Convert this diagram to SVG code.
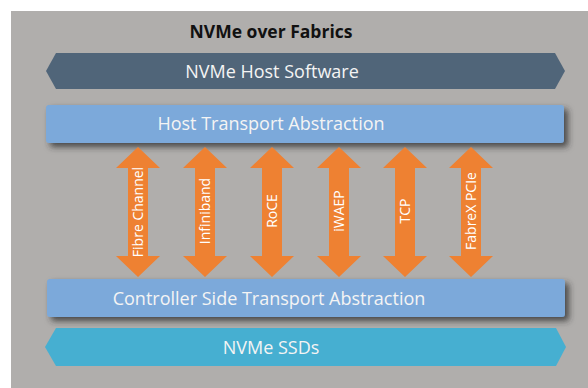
<svg xmlns="http://www.w3.org/2000/svg" width="588" height="388" viewBox="0 0 588 388">
<defs>
<filter id="sh" x="-5%" y="-30%" width="115%" height="180%">
<feDropShadow dx="4" dy="4" stdDeviation="3" flood-color="#333" flood-opacity="0.8"/>
</filter>
<style>
.lbl{font-family:"Open Sans","Liberation Sans",sans-serif;fill:#f4f4f4;text-anchor:middle}
.big{font-size:18px}
.arr{fill:#ee8132}
.al{font-family:"Open Sans","Liberation Sans",sans-serif;fill:#fff;font-size:14px;text-anchor:middle}
</style>
</defs>
<rect x="0" y="0" width="588" height="388" fill="#fff"/>
<rect x="11" y="11" width="577" height="377" fill="#b0aeac"/>
<text x="271" y="38" font-family="'Open Sans','Liberation Sans',sans-serif" font-weight="bold" font-size="17.5" fill="#111" text-anchor="middle">NVMe over Fabrics</text>
<g id="host-software">
<polygon points="56,53 555,53 565,71 555,89 56,89 46,71" fill="#506579"/>
<text class="lbl big" x="272" y="78">NVMe Host Software</text>
</g>
<g id="host-transport">
<rect x="46" y="105" width="518" height="38" rx="3" fill="#7ba9da" filter="url(#sh)"/>
<text class="lbl big" x="271" y="130">Host Transport Abstraction</text>
</g>
<g id="connectors">
<g id="fc">
<polygon class="arr" points="138,147 160,168 148,168 148,256 160,256 138,277 116,256 128,256 128,168 116,168"/>
<text class="al" transform="translate(143,212) rotate(-90)">Fibre Channel</text>
</g>
<g id="ib">
<polygon class="arr" points="205,147 227,168 215,168 215,256 227,256 205,277 183,256 195,256 195,168 183,168"/>
<text class="al" transform="translate(210,211) rotate(-90)">Infiniband</text>
</g>
<g id="roce">
<polygon class="arr" points="272,147 294,168 282,168 282,256 294,256 272,277 250,256 262,256 262,168 250,168"/>
<text class="al" transform="translate(277,211) rotate(-90)">RoCE</text>
</g>
<g id="iwarp">
<polygon class="arr" points="339,147 361,168 349,168 349,256 361,256 339,277 317,256 329,256 329,168 317,168"/>
<text class="al" transform="translate(344,211) rotate(-90)">iWAEP</text>
</g>
<g id="tcp">
<polygon class="arr" points="405,147 427,168 415,168 415,256 427,256 405,277 383,256 395,256 395,168 383,168"/>
<text class="al" transform="translate(410,211) rotate(-90)">TCP</text>
</g>
<g id="fabrex">
<polygon class="arr" points="471,147 493,168 481,168 481,256 493,256 471,277 449,256 461,256 461,168 449,168"/>
<text class="al" transform="translate(476,211) rotate(-90)">FabreX PCIe</text>
</g>
</g>
<g id="controller-transport">
<rect x="47" y="279" width="518" height="38" rx="3" fill="#7ba9da" filter="url(#sh)"/>
<text class="lbl big" x="269" y="305">Controller Side Transport Abstraction</text>
</g>
<g id="ssds">
<polygon points="56,328 556,328 566,347 556,366 56,366 45,347" fill="#46afd1"/>
<text class="lbl big" x="271" y="354">NVMe SSDs</text>
</g>
</svg>
